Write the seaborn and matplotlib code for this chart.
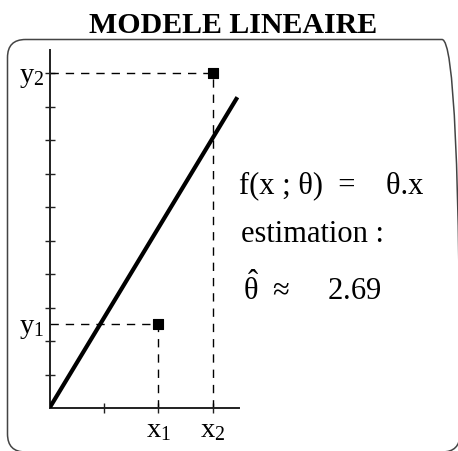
import numpy as np
import pandas as pd
import matplotlib
matplotlib.use("Agg")
import matplotlib.pyplot as plt
from matplotlib.patches import FancyBboxPatch
import seaborn as sns

# Observations and fitted parameter of the linear model f(x; theta) = theta * x
x_obs = [2, 3]
y_obs = [2.5, 10]
x_tick_labels = [r"$\mathrm{x}_{1}$", r"$\mathrm{x}_{2}$"]
y_tick_labels = [r"$\mathrm{y}_{1}$", r"$\mathrm{y}_{2}$"]
theta_hat = 2.69
x_fit = [0, 3.45]

sns.set_style("white")
plt.rcParams["font.family"] = ["Liberation Serif", "DejaVu Serif"]
plt.rcParams["mathtext.fontset"] = "custom"
plt.rcParams["mathtext.rm"] = "Liberation Serif"
plt.rcParams["mathtext.it"] = "Liberation Serif:italic"
plt.rcParams["mathtext.bf"] = "Liberation Serif:bold"
plt.rcParams["text.color"] = "black"
plt.rcParams["xtick.color"] = "black"
plt.rcParams["ytick.color"] = "black"

W, H = 458, 451
fig = plt.figure(figsize=(W / 100, H / 100), dpi=100)
fig.patch.set_facecolor("white")


def fx(x):
    return x / W


def fy(y):
    return 1 - y / H


# axes placed so that the origin sits near the lower left of the frame
ax = fig.add_axes([fx(49.5), fy(408), fx(239) - fx(49.5), fy(50) - fy(408)])
ax.set_xlim(0, 3.48)
ax.set_ylim(0, 10.69)

obs = pd.DataFrame({"x": x_obs, "y": y_obs})
fit = pd.DataFrame({"x": x_fit, "y": [theta_hat * v for v in x_fit]})

# guide lines from each observation to both axes
for xo, yo in zip(x_obs, y_obs):
    ax.plot([0, xo], [yo, yo], color="black", lw=1.0, dashes=(6, 5), zorder=2)
    ax.plot([xo, xo], [0, yo], color="black", lw=1.0, dashes=(6, 5), zorder=2)

sns.lineplot(data=fit, x="x", y="y", ax=ax, color="black", lw=3.0,
             solid_capstyle="butt", zorder=3)
sns.scatterplot(data=obs, x="x", y="y", ax=ax, marker="s", s=60,
                color="black", edgecolor="black", linewidth=0.8, zorder=4,
                clip_on=False)

# axes: only left and bottom spines, ticks crossing the axis
for side in ("top", "right"):
    ax.spines[side].set_visible(False)
for side in ("left", "bottom"):
    ax.spines[side].set_color("#202020")
    ax.spines[side].set_linewidth(1.4)
ax.set_xlabel("")
ax.set_ylabel("")
ax.xaxis.remove_overlapping_locs = False
ax.yaxis.remove_overlapping_locs = False
ax.set_xticks([1, 2, 3])
ax.set_yticks(range(1, 11))
ax.tick_params(which="major", direction="inout", length=7, width=1.0,
               color="#202020", bottom=True, left=True,
               labelbottom=False, labelleft=False)

ax.set_xticks(x_obs, minor=True)
ax.set_xticklabels(x_tick_labels, minor=True)
ax.set_yticks(y_obs, minor=True)
ax.set_yticklabels(y_tick_labels, minor=True)
ax.tick_params(which="minor", length=0, labelsize=20.5, bottom=True,
               left=True, labelbottom=True, labelleft=True)
ax.tick_params(axis="y", which="minor", pad=4)
ax.tick_params(axis="x", which="minor", pad=7)

# title and annotations
fig.text(fx(233.5), fy(33), "MODELE LINEAIRE", ha="center", va="baseline",
         fontsize=21.5, fontweight="bold")
fs = 22
fig.text(fx(239), fy(193), "f(x ; θ)  =    θ.x", ha="left", va="baseline",
         fontsize=fs)
fig.text(fx(241), fy(242), "estimation :", ha="left", va="baseline",
         fontsize=fs)
fig.text(fx(243), fy(300),
         r"$\hat{\mathrm{θ}}$  ≈     " + f"{theta_hat:.2f}",
         ha="left", va="baseline", fontsize=fs)

# rounded frame around the plot
frame = FancyBboxPatch((0.075, -0.01), 4.525, 4.125,
                       boxstyle="round,pad=0,rounding_size=0.18",
                       transform=fig.dpi_scale_trans, fill=False,
                       edgecolor="#444444", linewidth=1.1, clip_on=False)
fig.add_artist(frame)

fig.savefig("out.png", dpi=100)
